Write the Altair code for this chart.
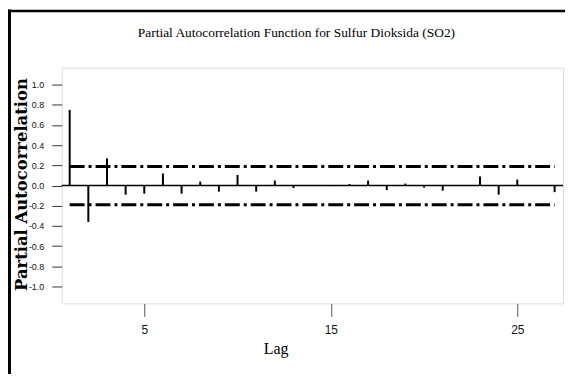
import altair as alt
import pandas as pd

lags = list(range(1, 28))
pacf = [0.75, -0.36, 0.27, -0.09, -0.08, 0.12, -0.08, 0.04, -0.06, 0.105,
        -0.06, 0.05, -0.025, 0.0, -0.005, 0.015, 0.05, -0.045, 0.02, -0.02,
        -0.05, 0.0, 0.09, -0.09, 0.06, 0.0, -0.065]
limit = 0.19
y_ticks = [-1.0, -0.8, -0.6, -0.4, -0.2, 0.0, 0.2, 0.4, 0.6, 0.8, 1.0]
x_ticks = [5, 15, 25]
title_text = "Partial Autocorrelation Function for Sulfur Dioksida (SO2)"

W, H = 504, 237
xdom = [0.573, 27.45]
ydom = [-1.167, 1.168]

df = pd.DataFrame({"lag": lags, "pacf": pacf, "zero": [0.0] * len(lags)})
lim_df = pd.DataFrame({"y": [limit, -limit], "x1": [lags[0]] * 2, "x2": [lags[-1]] * 2})

xscale = alt.Scale(domain=xdom, nice=False, zero=False)
yscale = alt.Scale(domain=ydom, nice=False, zero=False)

xaxis = alt.Axis(values=x_ticks, tickCount=30, title="Lag", domain=False, grid=False,
                 tickSize=13, tickColor="#555", tickWidth=1,
                 labelFont="Liberation Sans", labelFontSize=12, labelColor="#111",
                 labelPadding=8,
                 titleFont="Liberation Serif", titleFontSize=16, titleFontWeight="normal",
                 titleColor="black", titleX=215, titleY=50, titleAlign="center",
                 titleBaseline="alphabetic")
yaxis = alt.Axis(values=y_ticks, tickCount=30, title="Partial Autocorrelation", domain=False, grid=False,
                 tickSize=10, tickColor="#333", tickWidth=1,
                 labelFont="Liberation Sans", labelFontSize=9, labelColor="#111",
                 labelPadding=8, labelOverlap=False,
                 labelExpr="datum.value < -0.001 ? '-' + format(-datum.value, '.1f') : format(abs(datum.value), '.1f')",
                 titleFont="DejaVu Serif", titleFontSize=16.5, titleFontWeight="bold",
                 titleColor="black", titleAngle=270, titleX=-40, titleY=117,
                 titleAlign="center", titleBaseline="middle")

spikes = alt.Chart(df).mark_rule(color="black", strokeWidth=2).encode(
    x=alt.X("lag:Q", scale=xscale, axis=xaxis),
    y=alt.Y("zero:Q", scale=yscale, axis=yaxis),
    y2="pacf:Q",
)

zero_line = alt.Chart(pd.DataFrame({"z": [0.0]})).mark_rule(color="black", strokeWidth=1.5).encode(
    y=alt.Y("z:Q", scale=yscale, axis=yaxis),
)

limits = alt.Chart(lim_df).mark_rule(color="black", strokeWidth=3, strokeDash=[15, 4, 3, 4]).encode(
    x=alt.X("x1:Q", scale=xscale, axis=xaxis),
    x2="x2:Q",
    y=alt.Y("y:Q", scale=yscale, axis=yaxis),
)

one = pd.DataFrame({"a": [0]})
frame_left = alt.Chart(one).mark_rule(color="black", strokeWidth=3).encode(
    x=alt.value(-52.5), y=alt.value(-58.5), y2=alt.value(310))
frame_top = alt.Chart(one).mark_rule(color="black", strokeWidth=2.5).encode(
    x=alt.value(-54), x2=alt.value(520), y=alt.value(-57))

title = alt.Chart(pd.DataFrame({"t": [title_text]})).mark_text(
    font="Liberation Serif", fontSize=13.5, color="black", align="center", baseline="alphabetic"
).encode(x=alt.value(236), y=alt.value(-31), text="t:N")

chart = alt.layer(frame_left, frame_top, limits, zero_line, spikes, title).properties(
    width=W, height=H,
    autosize=alt.AutoSizeParams(type="none"),
    padding={"left": 54, "top": 59, "right": 2, "bottom": 70},
).configure_view(stroke="#333", strokeWidth=1.5).configure(background="white")

chart.save("out.html", embed_options={"renderer": "svg", "actions": False})
